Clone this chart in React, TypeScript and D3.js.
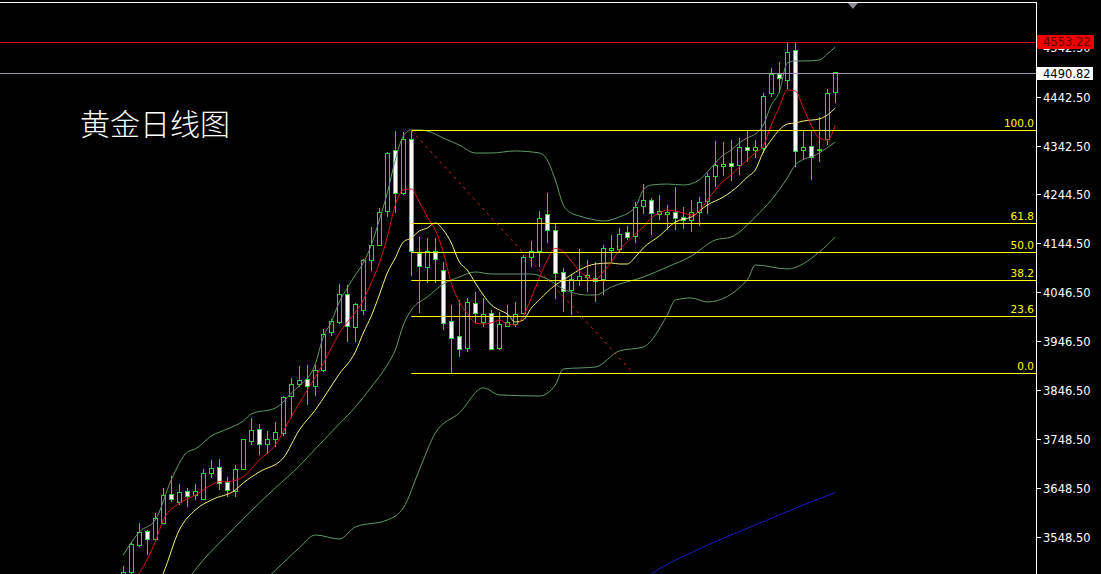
import React from 'react';
import * as d3 from 'd3';

const W = 1101;
const H = 574;
const PLOT_RIGHT = 1036.5;

const title = '黄金日线图';

const firstIndex = 15;
const opens = [3453.8, 3476.1, 3531.5, 3559.9, 3544.5, 3576.9, 3635.7, 3618.7, 3642.4, 3632.3,
  3625.6, 3676.9, 3690.5, 3660.1, 3641.0, 3686.4, 3743.8, 3766.2, 3737.2, 3747.3,
  3759.5, 3833.7, 3857.4, 3867.6, 3854.0, 3887.8, 3962.9, 3983.2, 4041.3, 3974.0,
  4008.5, 4109.5, 4141.3, 4208.9, 4332.6, 4246.2, 4355.7, 4124.5, 4096.1, 4127.7,
  4089.2, 3985.2, 3955.4, 3931.0, 4023.1, 3983.8, 4002.8, 3931.0, 3975.6, 3979.1,
  4002.8, 4116.4, 4127.7, 4202.2, 4170.3, 4085.2, 4048.6, 4069.0, 4075.8, 4072.4,
  4071.8, 4129.8, 4131.2, 4166.3, 4158.2, 4219.0, 4231.2, 4203.6, 4203.6, 4207.6,
  4197.5, 4192.0, 4206.8, 4229.1, 4279.8, 4300.1, 4307.0, 4301.6, 4339.5, 4332.6,
  4337.4, 4449.0, 4487.5, 4474.5, 4535.4, 4332.6, 4342.1, 4332.6, 4354.3, 4450.2];
const closes = [3476.1, 3532.9, 3558.7, 3544.5, 3587.1, 3632.9, 3624.2, 3639.8, 3630.9, 3642.4,
  3678.3, 3688.5, 3656.6, 3643.1, 3685.0, 3745.9, 3764.1, 3735.7, 3747.3, 3761.5,
  3832.5, 3858.8, 3865.5, 3854.0, 3885.8, 3960.8, 3985.2, 4041.3, 3976.5, 4019.7,
  4109.9, 4141.3, 4207.6, 4327.3, 4246.2, 4355.7, 4127.7, 4097.4, 4127.7, 4112.3,
  3982.5, 3951.3, 3929.8, 4025.1, 4002.8, 4000.8, 3929.8, 3979.1, 3983.8, 4000.8,
  4116.4, 4127.7, 4195.5, 4170.3, 4084.0, 4046.6, 4070.4, 4077.0, 4079.9, 4066.9,
  4134.6, 4134.6, 4163.6, 4157.0, 4217.8, 4231.2, 4205.6, 4208.3, 4207.6, 4195.5,
  4192.0, 4207.6, 4227.9, 4279.8, 4301.6, 4305.6, 4300.1, 4339.5, 4332.0, 4339.5,
  4443.5, 4487.5, 4478.0, 4532.1, 4330.6, 4339.5, 4319.2, 4336.0, 4449.0, 4490.82];
const highs = [3490.3, 3539.0, 3576.9, 3563.4, 3598.4, 3647.9, 3673.5, 3656.0, 3647.9, 3656.0,
  3686.4, 3705.3, 3706.7, 3671.5, 3695.2, 3747.3, 3789.9, 3778.3, 3764.1, 3783.0,
  3835.1, 3871.0, 3896.0, 3898.0, 3898.0, 3970.4, 3991.2, 4062.2, 4059.2, 4023.7,
  4112.3, 4178.5, 4215.8, 4329.3, 4372.0, 4370.0, 4374.0, 4158.2, 4154.9, 4154.9,
  4107.5, 4019.7, 4029.8, 4033.9, 4046.6, 4033.2, 4009.5, 4006.1, 4019.7, 4026.4,
  4121.0, 4149.4, 4210.9, 4246.2, 4185.4, 4094.1, 4082.0, 4132.6, 4110.9, 4106.9,
  4141.3, 4161.6, 4175.2, 4179.9, 4228.5, 4265.0, 4236.0, 4242.7, 4222.5, 4258.3,
  4219.0, 4232.6, 4238.1, 4286.7, 4352.9, 4350.8, 4354.3, 4358.9, 4374.6, 4354.3,
  4450.2, 4500.9, 4513.1, 4550.4, 4553.22, 4374.6, 4374.6, 4400.3, 4457.1, 4492.8];
const lows = [3441.7, 3470.1, 3528.9, 3512.7, 3541.0, 3575.5, 3620.2, 3614.1, 3610.6, 3624.2,
  3624.2, 3668.8, 3644.5, 3630.9, 3630.9, 3685.0, 3735.7, 3715.5, 3717.5, 3732.3,
  3754.0, 3790.5, 3853.4, 3816.9, 3835.7, 3884.4, 3956.8, 3981.1, 3945.2, 3945.2,
  3999.4, 4089.6, 4139.3, 4198.7, 4205.6, 4242.7, 4078.5, 4002.8, 4063.6, 4063.6,
  3969.0, 3881.5, 3914.8, 3924.3, 3982.5, 3975.6, 3928.4, 3928.4, 3975.0, 3975.6,
  4001.4, 4096.1, 4097.4, 4144.8, 4031.2, 4006.1, 3999.4, 4058.2, 4046.6, 4025.7,
  4039.9, 4105.4, 4127.7, 4151.5, 4144.8, 4204.2, 4161.6, 4192.0, 4171.8, 4171.8,
  4173.2, 4168.3, 4179.9, 4204.2, 4258.3, 4281.3, 4271.1, 4283.3, 4310.3, 4317.2,
  4327.3, 4442.1, 4449.0, 4457.1, 4300.1, 4313.7, 4273.1, 4310.3, 4344.1, 4428.7];

// moving averages and bands: [bar index, price]
const maFast: [number, number][] = [[15, 3441.7], [17, 3476.2], [19, 3539.6], [20, 3583.6], [22, 3617.5], [24, 3634.3],
  [26, 3654.6], [27, 3661.3], [28, 3661.3], [30, 3671.4], [32, 3705.3], [34, 3735.7], [36, 3793.1],
  [37, 3820.3], [40, 3901.4], [42, 3962.3], [45, 4029.8], [46, 4064.3], [47, 4104.2], [48, 4157.6],
  [49, 4222.5], [50, 4252.9], [51, 4254.9], [52, 4228.5], [53, 4198.1], [54, 4171.8], [55, 4127.1],
  [56, 4064.3], [57, 4025.7], [58, 4002.8], [59, 3983.2], [60, 3981.1], [61, 3983.2], [62, 3989.2],
  [63, 3981.1], [64, 3979.1], [65, 3997.4], [66, 4033.9], [67, 4074.4], [68, 4110.9], [69, 4134.6],
  [70, 4127.7], [71, 4108.9], [72, 4088.6], [73, 4076.4], [74, 4070.4], [75, 4086.6], [76, 4106.9],
  [77, 4131.2], [78, 4147.4], [79, 4163.6], [80, 4177.8], [81, 4196.1], [82, 4206.2], [83, 4212.3],
  [84, 4210.3], [85, 4206.2], [86, 4202.2], [87, 4210.3], [88, 4232.6], [89, 4252.9], [90, 4271.1],
  [91, 4283.3], [92, 4299.5], [93, 4313.7], [94, 4327.9], [95, 4342.1], [96, 4384.7], [97, 4421.2],
  [98, 4455.7], [99, 4453.7], [100, 4419.2], [101, 4384.7], [102, 4358.3], [103, 4354.3], [104, 4384.7]];
const maSlow: [number, number][] = [[19, 3440.0], [20, 3475.5], [22, 3563.4], [24, 3603.9], [26, 3624.2], [29, 3644.5],
  [30, 3658.7], [32, 3681.0], [35, 3709.4], [37, 3766.2], [39, 3806.7], [42, 3879.7], [44, 3924.3],
  [45, 3962.9], [46, 3997.4], [47, 4039.9], [48, 4084.6], [49, 4115.0], [50, 4147.4], [51, 4155.5],
  [52, 4169.7], [53, 4175.8], [54, 4186.0], [55, 4171.8], [56, 4145.4], [57, 4106.9], [58, 4090.6],
  [59, 4064.3], [60, 4039.9], [61, 4019.7], [62, 4009.5], [63, 4001.4], [64, 3985.2], [65, 3989.2],
  [66, 4013.6], [67, 4029.8], [68, 4046.0], [69, 4060.2], [70, 4070.4], [72, 4090.6], [74, 4102.8],
  [76, 4104.8], [77, 4102.8], [78, 4102.8], [79, 4117.0], [80, 4135.3], [82, 4159.6], [84, 4188.0],
  [86, 4198.1], [88, 4222.5], [90, 4238.7], [92, 4263.0], [93, 4279.2], [94, 4293.4], [95, 4330.1],
  [96, 4354.3], [97, 4374.6], [98, 4386.7], [99, 4388.8], [100, 4392.8], [102, 4396.9], [103, 4405.0],
  [104, 4419.2]];
const bandUpper: [number, number][] = [[15, 3512.7], [17, 3559.3], [19, 3583.6], [21, 3665.1], [23, 3721.5], [24, 3727.6],
  [26, 3754.0], [28, 3768.2], [30, 3784.4], [31, 3798.6], [34, 3810.8], [35, 3822.9], [36, 3841.2],
  [37, 3855.4], [39, 3900.0], [40, 3954.8], [41, 3985.2], [42, 4025.7], [43, 4054.1], [44, 4080.5],
  [45, 4104.8], [46, 4141.3], [47, 4192.0], [48, 4246.8], [49, 4313.7], [50, 4362.4], [51, 4374.6],
  [52, 4374.6], [53, 4372.5], [55, 4358.3], [57, 4344.1], [59, 4327.9], [61, 4327.9], [64, 4332.0],
  [67, 4327.9], [68, 4313.7], [69, 4273.2], [70, 4222.5], [71, 4206.2], [72, 4200.2], [74, 4192.0],
  [75, 4190.0], [77, 4198.1], [79, 4218.4], [80, 4252.9], [81, 4263.0], [83, 4265.0], [85, 4263.0],
  [87, 4273.2], [88, 4289.4], [89, 4307.6], [90, 4323.9], [91, 4334.0], [92, 4348.2], [93, 4358.3],
  [94, 4366.4], [95, 4384.7], [96, 4425.3], [97, 4451.6], [98, 4510.4], [99, 4514.5], [100, 4514.5],
  [102, 4516.5], [103, 4528.7], [104, 4542.9]];
const bandMiddle: [number, number][] = [[22, 3440.0], [25, 3502.5], [28, 3553.2], [32, 3618.1], [34, 3648.5], [37, 3693.2],
  [39, 3727.6], [42, 3778.5], [44, 3812.7], [46, 3853.4], [48, 3898.0], [49, 3928.4], [50, 3979.1],
  [51, 4009.5], [53, 4035.9], [55, 4062.2], [57, 4076.4], [59, 4086.6], [61, 4082.5], [66, 4082.5],
  [68, 4072.4], [70, 4052.1], [73, 4039.9], [74, 4039.9], [76, 4056.2], [80, 4076.4], [83, 4096.7],
  [86, 4119.0], [89, 4151.5], [91, 4157.6], [94, 4198.1], [96, 4232.6], [98, 4277.2], [99, 4303.6],
  [102, 4327.9], [104, 4350.2]];
const bandLower: [number, number][] = [[30, 3421.4], [33, 3466.0], [37, 3526.9], [39, 3553.2], [42, 3545.1], [44, 3569.4],
  [48, 3583.6], [50, 3608.0], [52, 3685.0], [54, 3760.1], [57, 3800.6], [60, 3851.5], [62, 3837.3],
  [67, 3835.1], [69, 3857.4], [70, 3889.9], [74, 3893.9], [77, 3926.4], [80, 3934.5], [83, 3999.4],
  [84, 4029.8], [86, 4033.9], [88, 4025.7], [93, 4070.4], [94, 4100.8], [98, 4092.7], [102, 4127.1],
  [104, 4157.6]];
const maLong: [number, number][] = [[79, 3450.0], [81, 3474.1], [87, 3524.9], [94, 3573.5], [100, 3614.1], [104, 3639.4]];

const axisTicks = [4542.5, 4442.5, 4342.5, 4244.5, 4144.5, 4046.5, 3946.5, 3846.5, 3748.5, 3648.5, 3548.5];
const fibLevels = [0, 23.6, 38.2, 50.0, 61.8, 100.0];
const fibLow = 3881.5;
const fibHigh = 4374.0;
const fibStartIndex = 51;
const trendStart: [number, number] = [51, 4374.0];
const trendEnd: [number, number] = [78.75, 3881.5];
const periodHigh = 4553.22;
const lastPrice = 4490.82;
const markerIndex = 106.2;

const CANDLE = '#19e619';
const BAND = '#5f9a66';

export default function App() {
  const x = d3.scaleLinear().domain([0, 104]).range([3.3, 835.3]);
  const y = d3.scaleLinear().domain([3548.5, 4442.5]).range([537.3, 96.5]);
  const line = d3
    .line<[number, number]>()
    .x((d) => x(d[0]))
    .y((d) => y(d[1]))
    .curve(d3.curveMonotoneX);

  const candles = opens.map((o, k) => ({
    i: firstIndex + k,
    o,
    c: closes[k],
    h: highs[k],
    l: lows[k],
  }));

  const fmt = d3.format('.2f');
  const font = "'DejaVu Sans', Verdana, sans-serif";

  return (
    <div style={{ position: 'absolute', left: 0, top: 0, width: W, height: H }}>
      <svg width={W} height={H} style={{ display: 'block', background: '#000' }}>
        <defs>
          <clipPath id="plot">
            <rect x={0} y={3} width={PLOT_RIGHT} height={H - 3} />
          </clipPath>
        </defs>
        <rect x={0} y={0} width={W} height={H} fill="#000" />

        <text x={80} y={135} fill="#fff" fontSize={30} fontFamily="'Noto Sans CJK SC', sans-serif" fontWeight={300}>
          {title}
        </text>

        <g clipPath="url(#plot)">
          {/* candles */}
          <g shapeRendering="crispEdges">
            {candles.map((d) => {
              const cx = Math.round(x(d.i));
              const bull = d.c >= d.o;
              const top = y(Math.max(d.o, d.c));
              const bot = y(Math.min(d.o, d.c));
              return (
                <g key={d.i}>
                  <line x1={cx + 0.5} x2={cx + 0.5} y1={y(d.h)} y2={y(d.l)} stroke={CANDLE} strokeWidth={1} />
                  <rect
                    x={cx - 1.5}
                    y={top}
                    width={4}
                    height={Math.max(1, bot - top)}
                    fill={bull ? '#000' : '#f4fff4'}
                    stroke={CANDLE}
                    strokeWidth={1}
                  />
                </g>
              );
            })}
          </g>

          {/* bands and MAs */}
          <path d={line(bandUpper) || ''} fill="none" stroke={BAND} strokeWidth={1} />
          <path d={line(bandMiddle) || ''} fill="none" stroke={BAND} strokeWidth={1} />
          <path d={line(bandLower) || ''} fill="none" stroke={BAND} strokeWidth={1} />
          <path d={line(maLong) || ''} fill="none" stroke="#1c1cc8" strokeWidth={1} />
          <path d={line(maSlow) || ''} fill="none" stroke="#f4f470" strokeWidth={1} />
          <path d={line(maFast) || ''} fill="none" stroke="#d41818" strokeWidth={1} />

          {/* fibonacci */}
          {fibLevels.map((lv) => {
            const p = fibLow + ((fibHigh - fibLow) * lv) / 100;
            const yy = Math.round(y(p)) + 0.5;
            return (
              <g key={lv}>
                <line x1={x(fibStartIndex)} x2={PLOT_RIGHT} y1={yy} y2={yy} stroke="#ffff00" strokeWidth={1} />
                <text x={1034} y={yy - 4} fill="#ffff00" fontSize={10.5} fontFamily={font} textAnchor="end">
                  {lv.toFixed(1)}
                </text>
              </g>
            );
          })}
          <line
            x1={x(trendStart[0])}
            y1={y(trendStart[1])}
            x2={x(trendEnd[0])}
            y2={y(trendEnd[1])}
            stroke="#d02020"
            strokeWidth={1}
            strokeDasharray="3,4"
          />

          {/* price lines */}
          <line x1={0} x2={PLOT_RIGHT} y1={Math.round(y(periodHigh)) + 0.5} y2={Math.round(y(periodHigh)) + 0.5} stroke="#d01010" strokeWidth={1} />
          <line x1={0} x2={PLOT_RIGHT} y1={Math.round(y(lastPrice)) + 0.5} y2={Math.round(y(lastPrice)) + 0.5} stroke="#9a9aa6" strokeWidth={1} />
        </g>

        {/* frame */}
        <line x1={0} x2={PLOT_RIGHT} y1={2.5} y2={2.5} stroke="#fff" strokeWidth={1} />
        <line x1={PLOT_RIGHT} x2={PLOT_RIGHT} y1={2} y2={H} stroke="#fff" strokeWidth={1} />
        <path
          d={`M${x(markerIndex) - 5},3 L${x(markerIndex) + 5},3 L${x(markerIndex)},9 Z`}
          fill="#8c8c98"
        />

        {/* axis */}
        {axisTicks.map((t) => {
          const yy = Math.round(y(t)) + 0.5;
          return (
            <g key={t}>
              <line x1={PLOT_RIGHT} x2={1041} y1={yy} y2={yy} stroke="#fff" strokeWidth={1} />
              <text x={1043} y={yy + 4} fill="#fff" fontSize={11.5} fontFamily={font}>
                {fmt(t)}
              </text>
            </g>
          );
        })}

        <rect x={1037} y={Math.round(y(periodHigh)) - 7} width={57} height={14} fill="#ee0000" />
        <text x={1043} y={Math.round(y(periodHigh)) + 4} fill="#5a0000" fontSize={11.5} fontFamily={font}>
          {fmt(periodHigh)}
        </text>
        <rect x={1037} y={Math.round(y(lastPrice)) - 6} width={56} height={13} fill="#fff" />
        <text x={1043} y={Math.round(y(lastPrice)) + 4.5} fill="#000" fontSize={11.5} fontFamily={font}>
          {fmt(lastPrice)}
        </text>
      </svg>
    </div>
  );
}
